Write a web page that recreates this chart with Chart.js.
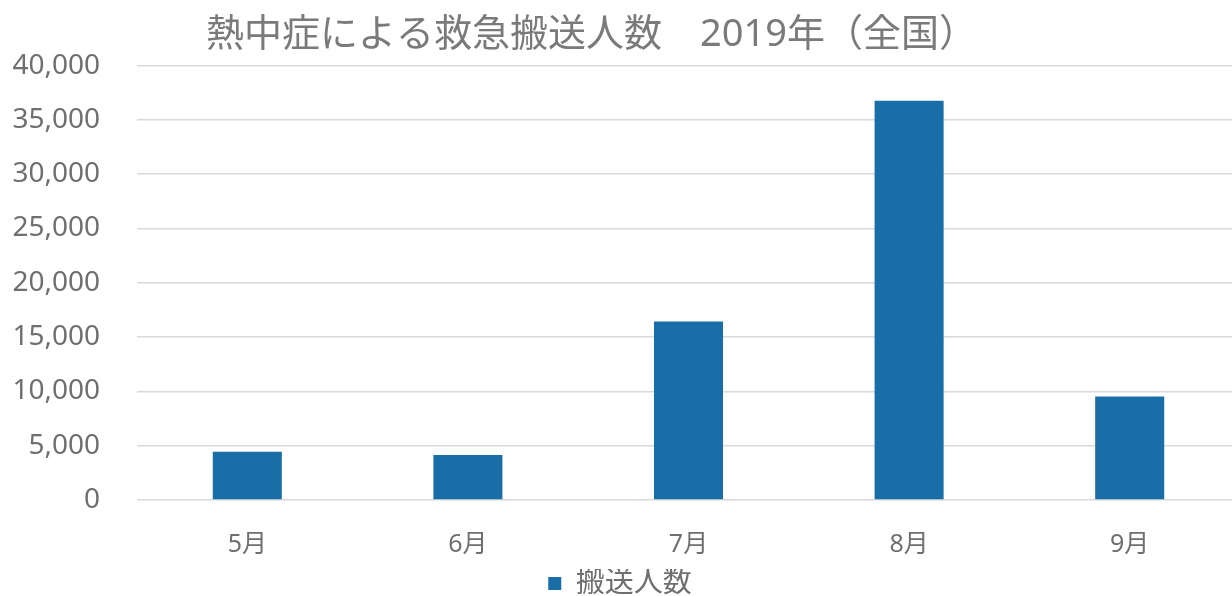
<!DOCTYPE html>
<html lang="ja">
<head>
<meta charset="utf-8">
<script src="https://cdn.jsdelivr.net/npm/chart.js@4/dist/chart.umd.min.js"></script>
<style>
  html, body { margin: 0; padding: 0; background: #fff; overflow: hidden; }
  /* the original is cropped a little on the right and bottom */
  #wrap { width: 1240px; height: 608px; }
</style>
</head>
<body>
<div id="wrap"><canvas id="chart" width="1240" height="608"></canvas></div>
<script>
  // months and counts
  var months = ["5月", "6月", "7月", "8月", "9月"];
  var counts = [4448, 4151, 16431, 36755, 9532];
  var seriesName = "搬送人数";
  var titleText = "熱中症による救急搬送人数　2019年（全国）";

  var FONT = "'Noto Sans', 'Noto Sans CJK JP', sans-serif";
  var TICK_GRAY = "#6f6f6f";

  new Chart(document.getElementById("chart"), {
    type: "bar",
    data: {
      labels: months,
      datasets: [{
        label: seriesName,
        data: counts,
        backgroundColor: "#1a6ea8",
        barPercentage: 0.313,
        categoryPercentage: 1.0,
      }],
    },
    options: {
      responsive: false,
      animation: false,
      plugins: {
        title: {
          display: true,
          text: titleText + "　　",
          color: "#7a7a7a",
          font: { family: FONT, size: 38, weight: "normal" },
          padding: { top: 12, bottom: 8 },
        },
        legend: {
          position: "bottom",
          labels: {
            color: TICK_GRAY,
            font: { family: FONT, size: 29 },
            boxWidth: 13,
            boxHeight: 13,
            padding: 0,
          },
        },
        tooltip: { enabled: false },
      },
      scales: {
        x: {
          afterFit: function (scale) { scale.height = 69; },
          grid: { display: false, drawTicks: false },
          border: { display: false },
          ticks: { color: TICK_GRAY, font: { family: FONT, size: 25 }, padding: 30 },
        },
        y: {
          min: 0,
          max: 40000,
          afterFit: function (scale) { scale.width = 137; },
          grid: { color: "#d9d9d9", lineWidth: 1.5, drawTicks: false },
          border: { display: false },
          ticks: {
            stepSize: 5000,
            color: TICK_GRAY,
            padding: 37,
            font: { family: FONT, size: 28 },
            callback: function (v) { return v.toLocaleString("en-US"); },
          },
        },
      },
    },
  });
</script>
</body>
</html>
